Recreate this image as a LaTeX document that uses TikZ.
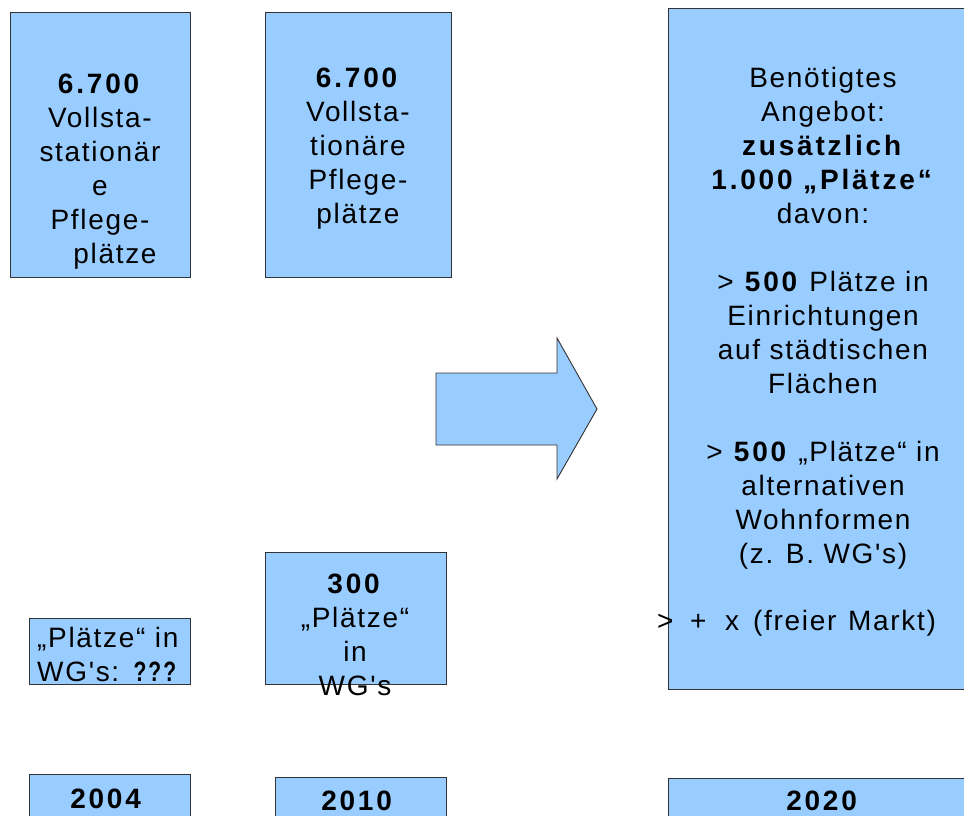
\documentclass[tikz,border=0pt]{standalone}
\usepackage{fontspec}
\setmainfont{Liberation Sans}[LetterSpace=6,Ligatures=TeXOff,BoldFeatures={LetterSpace=10}]
\definecolor{boxblue}{HTML}{99CCFF}
\definecolor{edge}{HTML}{333333}
\begin{document}
\begin{tikzpicture}[x=1pt,y=-1pt,
  box/.style={draw=edge,fill=boxblue,line width=0.9pt,inner sep=0pt},
  txt/.style={anchor=base,inner sep=0pt,font=\fontsize{28}{34}\selectfont},
  txtw/.style={anchor=base west,inner sep=0pt,font=\fontsize{28}{34}\selectfont}]
\useasboundingbox (0,0) rectangle (964,816);
\clip (0,0) rectangle (964,816);
% boxes
\node[box,minimum width=180pt,minimum height=265pt] (b1) at (100,144.5) {};
\node[box,minimum width=186pt,minimum height=265pt] (b2) at (358,144.5) {};
\node[box,minimum width=312pt,minimum height=681pt] (b3) at (824,348.5) {};
\node[box,minimum width=161pt,minimum height=66pt] (w1) at (109.5,651) {};
\node[box,minimum width=181pt,minimum height=132pt] (w2) at (355.5,618) {};
\node[box,minimum width=161pt,minimum height=76pt] (y1) at (109.5,812) {};
\node[box,minimum width=171pt,minimum height=73pt] (y2) at (360.5,813.5) {};
\node[box,minimum width=312pt,minimum height=72pt] (y3) at (824,814) {};
% arrow
\draw[edge,fill=boxblue,line width=0.9pt,line join=miter] (436,373) -- (557,373) -- (557,338) -- (597,409) -- (557,479) -- (557,445) -- (436,445) -- cycle;
% texts
\node[txt] (t1) at (100,93) {\begin{tabular}[t]{@{}c@{}}\textbf{6.700}\\Vollsta-\\stationär\\e\\Pflege-\\\hspace*{30pt}plätze\end{tabular}};
\node[txt] (t2) at (358,88) {\begin{tabular}[t]{@{}c@{}}\textbf{6.700}\\Vollsta-\\tionäre\\Pflege-\\plätze\end{tabular}};
\node[txt] (t3) at (823,88) {\begin{tabular}[t]{@{}c@{}}Benötigtes\\Angebot:\\\textbf{zusätzlich}\\\textbf{1.000 „Plätze“}\\davon:\\ \\> \textbf{500} Plätze in\\Einrichtungen\\auf städtischen\\Flächen\\ \\> \textbf{500} „Plätze“ in\\alternativen\\Wohnformen\\(z. B. WG's)\end{tabular}};
\node[txtw] (t4) at (657,630) {\makebox[33pt][l]{>}\makebox[35pt][l]{+}\makebox[28pt][l]{x}\makebox[95pt][l]{(freier}Markt)};
\node[txtw] (t5) at (37,647) {\begin{tabular}[t]{@{}l@{}}„Plätze“ in\\WG's: \textbf{\scalebox{0.75}[1]{\addfontfeature{LetterSpace=-4}???}}\end{tabular}};
\node[txt] (t6) at (355,593) {\begin{tabular}[t]{@{}c@{}}\textbf{300}\\„Plätze“\\in\\WG's\end{tabular}};
\node[txt] (t7) at (107,808) {\textbf{2004}};
\node[txt] (t8) at (358,810) {\textbf{2010}};
\node[txt] (t9) at (823,810) {\textbf{2020}};
\end{tikzpicture}
\end{document}
